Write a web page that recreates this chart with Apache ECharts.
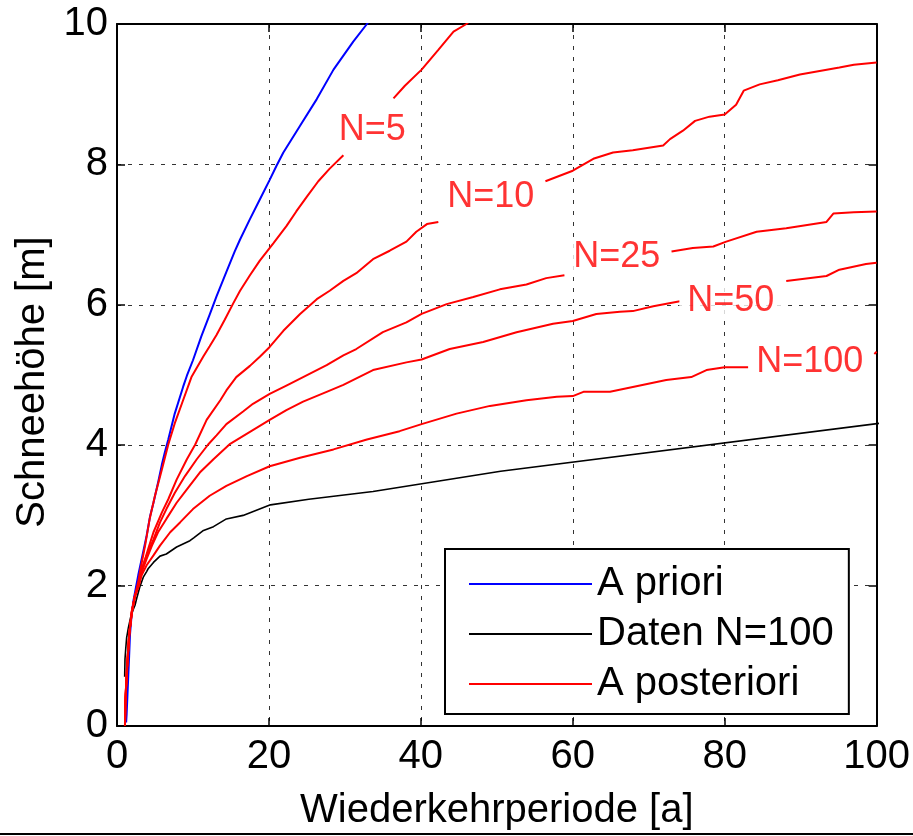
<!DOCTYPE html>
<html>
<head>
<meta charset="utf-8">
<script src="https://cdn.jsdelivr.net/npm/echarts@6/dist/echarts.min.js"></script>
<style>
  html, body { margin: 0; padding: 0; background: #fff; }
  #chart { width: 913px; height: 836px; }
</style>
</head>
<body>
<div id="chart"></div>
<script>
// ---------- data (x = Wiederkehrperiode [a], y = Schneehöhe [m]) ----------
const xTicks = [0, 20, 40, 60, 80, 100];
const yTicks = [0, 2, 4, 6, 8, 10];

const aPriori = [
  [1.2,0.05],[1.27,0.17],[1.38,0.45],[1.49,0.73],[1.6,1.0],[1.71,1.3],[1.9,1.55],[2.14,1.77],
  [2.45,1.95],[2.8,2.15],[3.25,2.38],[3.9,2.71],[4.34,2.98],[4.8,3.18],[5.43,3.48],[5.9,3.72],
  [6.3,3.9],[6.75,4.08],[7.6,4.45],[8.7,4.83],[9.2,4.99],[10.0,5.21],[11.1,5.55],[12.2,5.86],
  [13.1,6.12],[14.4,6.47],[15.5,6.76],[16.2,6.93],[17.5,7.22],[18.8,7.5],[20.1,7.78],[21.0,7.98],
  [21.9,8.17],[24.1,8.55],[26.3,8.93],[28.5,9.35],[31.1,9.75],[32.9,10.0],[33.5,10.1]
];

const datenN100 = [
  [1.01,0.7],[1.05,0.95],[1.15,1.1],[1.27,1.26],[1.5,1.4],[1.8,1.55],[2.1,1.65],[2.37,1.72],
  [2.6,1.82],[3.0,1.98],[3.46,2.12],[3.9,2.2],[4.1,2.24],[4.8,2.33],[5.66,2.42],[6.5,2.45],
  [7.85,2.55],[9.6,2.64],[10.1,2.68],[11.3,2.78],[12.7,2.84],[14.4,2.95],[16.6,3.0],[20.2,3.15],
  [25.25,3.23],[33.7,3.34],[50.5,3.63],[101,4.32]
];

const postN5 = [
  [1.05,0],[1.1,0.35],[1.3,0.8],[1.6,1.3],[1.95,1.62],[2.35,1.85],[2.8,2.05],[3.1,2.24],[3.7,2.57],
  [4.3,2.95],[5.0,3.28],[5.9,3.65],[6.75,4.01],[7.6,4.31],[8.7,4.64],[9.8,4.97],[10.6,5.12],
  [11.4,5.27],[12.2,5.41],[13.1,5.57],[14.2,5.79],[15.3,6.02],[16.2,6.2],[17.5,6.42],[18.8,6.63],
  [20.6,6.88],[22.3,7.12],[23.6,7.33],[25.0,7.54],[26.5,7.76],[28.0,7.94],[29.8,8.13],
  [33,null],
  [36.4,8.94],[37.9,9.12],[40.1,9.35],[42.3,9.63],[44.3,9.89],[46.0,10.0],[46.5,10.05]
];

const postN10 = [
  [1.05,0],[1.1,0.35],[1.3,0.8],[1.6,1.3],[1.95,1.62],[2.35,1.85],[2.9,2.0],[3.46,2.29],[4.1,2.52],
  [4.8,2.76],[5.9,3.04],[6.75,3.23],[7.85,3.51],[9.2,3.8],[10.3,4.01],[11.8,4.36],[13.6,4.64],
  [14.4,4.78],[15.7,4.97],[17.5,5.13],[18.8,5.26],[20.1,5.4],[21.9,5.63],[24.1,5.87],[26.3,6.08],
  [28.0,6.2],[29.8,6.34],[31.5,6.45],[33.7,6.65],[35.9,6.77],[38.1,6.9],[39.4,7.04],[40.8,7.15],
  [42.3,7.18],
  [49,null],
  [56.4,7.76],[60.0,7.91],[62.7,8.08],[65.3,8.17],[67.9,8.2],[71.9,8.27],[72.8,8.36],[74.5,8.48],
  [76.1,8.62],[78,8.68],[80,8.71],[81.5,8.85],[82.5,9.05],[84.6,9.14],[87,9.2],[89.9,9.28],
  [95.1,9.38],[97,9.42],[100,9.45]
];

const postN25 = [
  [1.05,0],[1.1,0.35],[1.3,0.8],[1.6,1.3],[1.95,1.62],[2.35,1.85],[2.8,2.0],[3.25,2.24],[3.9,2.43],
  [4.8,2.66],[5.66,2.9],[6.5,3.09],[7.6,3.32],[8.95,3.56],[10.5,3.8],[12.0,4.01],[13.1,4.14],
  [14.4,4.3],[16.6,4.48],[17.9,4.59],[20.1,4.73],[22.3,4.85],[24.5,4.97],[27.6,5.14],[29.8,5.28],
  [31.5,5.37],[35.0,5.61],[38.1,5.75],[40.1,5.87],[43.4,6.01],[46.9,6.11],[50.4,6.22],[53.9,6.29],
  [56.5,6.38],[58.9,6.42],
  [65,null],
  [73.0,6.76],[75.8,6.81],[78.5,6.83],[80.2,6.9],[84.2,7.04],[88.1,7.09],[93.4,7.18],[94.3,7.3],
  [97,7.32],[100,7.33]
];

const postN50 = [
  [1.05,0],[1.1,0.35],[1.3,0.8],[1.6,1.3],[1.95,1.62],[2.35,1.85],[2.8,2.0],[3.25,2.19],[3.9,2.38],
  [4.6,2.57],[5.4,2.76],[6.5,2.95],[7.85,3.18],[9.2,3.37],[10.9,3.61],[12.7,3.8],[14.9,4.02],
  [17.5,4.19],[20.1,4.36],[22.3,4.5],[24.5,4.62],[27.6,4.76],[29.8,4.86],[33.7,5.07],[38.1,5.18],
  [40.1,5.22],[43.8,5.37],[48.2,5.47],[52.6,5.61],[57.4,5.73],[60.0,5.77],[63.1,5.87],[66.2,5.9],
  [67.9,5.91],[70.6,5.98],[74.1,6.05],
  [81,null],
  [88.1,6.34],[93.4,6.41],[95.1,6.5],[98.6,6.58],[100,6.6]
];

const postN100 = [
  [1.05,0.03],[1.09,0.31],[1.36,0.83],[1.62,1.3],[1.93,1.63],[2.37,1.84],[2.8,2.0],[3.25,2.15],
  [3.9,2.29],[4.8,2.43],[5.66,2.57],[7.0,2.76],[8.3,2.9],[10.0,3.09],[12.2,3.28],[14.4,3.42],
  [17.1,3.56],[20.1,3.7],[24.1,3.82],[28.5,3.94],[32.9,4.08],[37.2,4.2],[40.1,4.3],[44.7,4.45],
  [49.1,4.56],[53.9,4.64],[57.9,4.69],[60.0,4.7],[61.4,4.76],[64.9,4.76],[67.9,4.83],[72.3,4.93],
  [75.6,4.97],[77.6,5.07],[80.0,5.11],[83.1,5.11],
  [90,null],
  [99.7,5.3],[100,5.33]
];

const labelTexts = ['N=5', 'N=10', 'N=25', 'N=50', 'N=100'];
const labelX = [33.6, 49.2, 65.8, 80.8, 91.2];
const labelY = [8.49, 7.53, 6.68, 6.06, 5.18];

const legendNames = ['A priori', 'Daten N=100', 'A posteriori'];

// ---------- chart ----------
const FONT = 'Liberation Sans, Arial, Helvetica, sans-serif';
const chart = echarts.init(document.getElementById('chart'), null, { renderer: 'canvas' });

function redSeries(data) {
  return {
    name: 'A posteriori', type: 'line', data: data, symbol: 'none', showSymbol: false,
    connectNulls: false, lineStyle: { color: '#ff0000', width: 2 }, itemStyle: { color: '#ff0000' },
    z: 3
  };
}

const gridLine = { show: true, lineStyle: { color: '#333', width: 1, type: [4, 7] } };

const option = {
  animation: false,
  backgroundColor: '#fff',
  grid: { left: 117, right: 36, top: 24, bottom: 104, containLabel: false },
  xAxis: [
    {
      type: 'value', min: xTicks[0], max: xTicks[xTicks.length - 1], interval: 20, position: 'bottom',
      name: 'Wiederkehrperiode [a]', nameLocation: 'middle', nameGap: 65,
      nameTextStyle: { fontSize: 40, color: '#000', fontFamily: FONT },
      axisLine: { show: true, onZero: false, lineStyle: { color: '#000', width: 2 } },
      axisTick: { show: true, inside: true, length: 8, lineStyle: { color: '#000', width: 1.5 } },
      axisLabel: { fontSize: 40, color: '#000', fontFamily: FONT, margin: 11 },
      splitLine: gridLine
    },
    {
      type: 'value', min: xTicks[0], max: xTicks[xTicks.length - 1], interval: 20, position: 'top',
      axisLine: { show: true, onZero: false, lineStyle: { color: '#000', width: 2 } },
      axisTick: { show: true, inside: true, length: 8, lineStyle: { color: '#000', width: 1.5 } },
      axisLabel: { show: false }, splitLine: { show: false }
    }
  ],
  yAxis: [
    {
      type: 'value', min: yTicks[0], max: yTicks[yTicks.length - 1], interval: 2, position: 'left',
      name: 'Schneehöhe [m]', nameLocation: 'middle', nameGap: 64, nameRotate: 90,
      nameTextStyle: { fontSize: 40, color: '#000', fontFamily: FONT, padding: [0, 14, 0, 0] },
      axisLine: { show: true, onZero: false, lineStyle: { color: '#000', width: 2 } },
      axisTick: { show: true, inside: true, length: 8, lineStyle: { color: '#000', width: 1.5 } },
      axisLabel: { fontSize: 40, color: '#000', fontFamily: FONT, margin: 9 },
      splitLine: gridLine
    },
    {
      type: 'value', min: yTicks[0], max: yTicks[yTicks.length - 1], interval: 2, position: 'right',
      axisLine: { show: true, onZero: false, lineStyle: { color: '#000', width: 2 } },
      axisTick: { show: true, inside: true, length: 8, lineStyle: { color: '#000', width: 1.5 } },
      axisLabel: { show: false }, splitLine: { show: false }
    }
  ],
  legend: {
    data: legendNames,
    orient: 'vertical',
    left: 445, top: 549,
    padding: [15, 15, 10, 24],
    itemGap: 10,
    itemWidth: 123, itemHeight: 2,
    itemTextGap: 20,
    icon: 'rect',
    itemStyle: { borderWidth: 0 },
    backgroundColor: '#fff',
    borderColor: '#000', borderWidth: 2,
    textStyle: { fontSize: 40, lineHeight: 40, color: '#000', fontFamily: FONT },
    selectedMode: false,
    z: 20
  },
  graphic: [
    { type: 'rect', left: 0, top: 833, shape: { width: 913, height: 2 }, style: { fill: '#000' }, silent: true }
  ],
  series: [
    {
      name: 'A priori', type: 'line', data: aPriori, symbol: 'none', showSymbol: false,
      lineStyle: { color: '#0000ff', width: 2 }, itemStyle: { color: '#0000ff' }, z: 2
    },
    {
      name: 'Daten N=100', type: 'line', data: datenN100, symbol: 'none', showSymbol: false,
      lineStyle: { color: '#000000', width: 1.6 }, itemStyle: { color: '#000000' }, z: 2
    },
    redSeries(postN5),
    redSeries(postN10),
    redSeries(postN25),
    redSeries(postN50),
    redSeries(postN100),
    {
      name: 'labels', type: 'scatter', symbolSize: 1, z: 10,
      itemStyle: { color: 'rgba(0,0,0,0)' },
      data: labelTexts.map((t, i) => ({ value: [labelX[i], labelY[i]], name: t })),
      label: {
        show: true, position: 'inside', formatter: p => p.name,
        fontSize: 36, color: '#ff0000', fontFamily: FONT,
        backgroundColor: '#fff', padding: [2, 8]
      },
      silent: true
    }
  ]
};

chart.setOption(option);
</script>
</body>
</html>
